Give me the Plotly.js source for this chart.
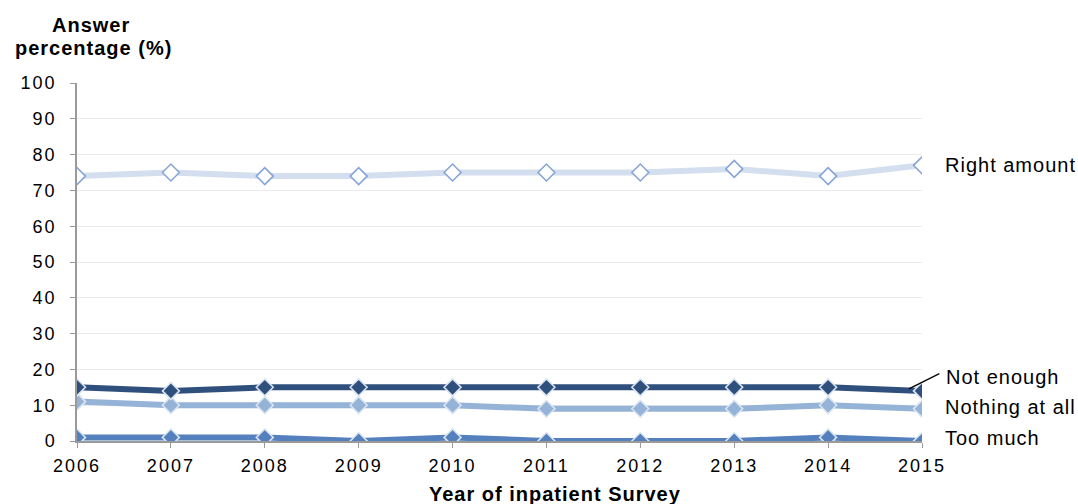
<!DOCTYPE html>
<html>
<head>
<meta charset="utf-8">
<script src="https://cdn.plot.ly/plotly-3.0.1.min.js"></script>
<style>
html,body{margin:0;padding:0;background:#fff;}
#chart{width:1078px;height:504px;}
svg text{letter-spacing:1px;}
#chart g.xtick text, #chart g.ytick text{letter-spacing:2px;}
</style>
</head>
<body>
<div id="chart"></div>
<script>
var years = [2006, 2007, 2008, 2009, 2010, 2011, 2012, 2013, 2014, 2015];
var rightAmount = [74, 75, 74, 74, 75, 75, 75, 76, 74, 77];
var notEnough = [15, 14, 15, 15, 15, 15, 15, 15, 15, 14];
var nothingAtAll = [11, 10, 10, 10, 10, 9, 9, 9, 10, 9];
var tooMuch = [1, 1, 1, 0, 1, 0, 0, 0, 1, 0];
var yTicks = [0, 10, 20, 30, 40, 50, 60, 70, 80, 90, 100];
var seriesNames = ["Right amount", "Not enough", "Nothing at all", "Too much"];

var FONT = "Liberation Sans, Arial, sans-serif";

function mk(y, name, lineColor, fill, edge) {
  return {
    x: years, y: y, name: name, type: "scatter", mode: "lines+markers",
    line: {color: lineColor, width: 6},
    marker: {symbol: "diamond", size: 13, color: fill, line: {color: edge, width: 1.6}},
    hoverinfo: "x+y+name"
  };
}

var data = [
  mk(tooMuch, seriesNames[3], "#5580BE", "#5580BE", "#dbe5f1"),
  mk(nothingAtAll, seriesNames[2], "#95B3D7", "#95B3D7", "#dbe5f1"),
  mk(notEnough, seriesNames[1], "#2F4F7D", "#2F4F7D", "#dbe5f1"),
  mk(rightAmount, seriesNames[0], "#D3DEEF", "#ffffff", "#87A5D6")
];

var annFont = {family: FONT, size: 20, color: "#000"};
var titleFont = {family: FONT, size: 20, color: "#000"};
var annotations = [
  {xref: "paper", yref: "paper", x: 0.0166, y: 1.0, yshift: 58, xanchor: "center", yanchor: "middle",
   text: "<b>Answer</b>", showarrow: false, font: titleFont},
  {xref: "paper", yref: "paper", x: 0.019, y: 1.0, yshift: 35, xanchor: "center", yanchor: "middle",
   text: "<b>percentage (%)</b>", showarrow: false, font: titleFont},
  {xref: "paper", yref: "paper", x: 0.566, y: 0, yshift: -53, xanchor: "center", yanchor: "middle",
   text: "<b>Year of inpatient Survey</b>", showarrow: false, font: titleFont},
  {x: 2015, y: rightAmount[9], xref: "x", yref: "y", text: seriesNames[0], showarrow: false,
   xanchor: "left", yanchor: "middle", xshift: 21, font: annFont},
  {x: 2014.86, y: notEnough[9], xref: "x", yref: "y", text: "", showarrow: true, yshift: 2,
   ax: 32, ay: -16, arrowhead: 0, arrowwidth: 1.3, arrowcolor: "#000", standoff: 0},
  {x: 2015, y: notEnough[9], xref: "x", yref: "y", text: seriesNames[1], showarrow: false,
   xanchor: "left", yanchor: "middle", xshift: 22, yshift: 14, font: annFont},
  {x: 2015, y: nothingAtAll[9], xref: "x", yref: "y", text: seriesNames[2], showarrow: false,
   xanchor: "left", yanchor: "middle", xshift: 21, yshift: 2, font: annFont},
  {x: 2015, y: tooMuch[9], xref: "x", yref: "y", text: seriesNames[3], showarrow: false,
   xanchor: "left", yanchor: "middle", xshift: 21, yshift: 3, font: annFont}
];

var layout = {
  width: 1078, height: 504,
  margin: {l: 77, r: 156, t: 83, b: 63},
  paper_bgcolor: "#fff", plot_bgcolor: "#fff",
  showlegend: false,
  font: {family: FONT, size: 18, color: "#000"},
  xaxis: {
    range: [2006, 2015], tickvals: years, ticktext: years.map(String),
    showgrid: false, zeroline: false, showline: true, linecolor: "#9a9a9a", linewidth: 1.5,
    ticks: "outside", ticklen: 5, tickcolor: "#9a9a9a",
    ticklabelstandoff: 3,
    tickfont: {family: FONT, size: 18, color: "#000"},
    fixedrange: true
  },
  yaxis: {
    range: [0, 100], tickvals: yTicks, ticktext: yTicks.map(String),
    showgrid: true, gridcolor: "#ebebeb", gridwidth: 1,
    zeroline: false, showline: true, linecolor: "#9a9a9a", linewidth: 1.5,
    ticks: "outside", ticklen: 5, tickcolor: "#9a9a9a",
    ticklabelstandoff: 10,
    tickfont: {family: FONT, size: 18, color: "#000"},
    fixedrange: true
  },
  annotations: annotations
};

Plotly.newPlot("chart", data, layout, {displayModeBar: false, responsive: false});
</script>
</body>
</html>
